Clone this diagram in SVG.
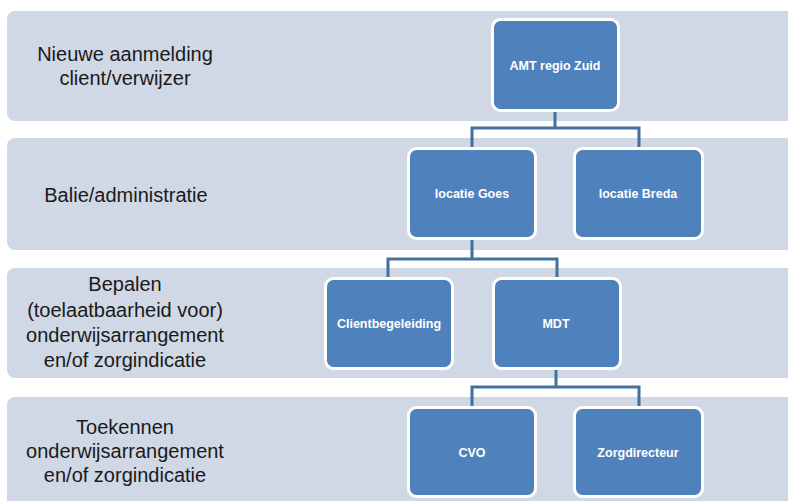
<svg xmlns="http://www.w3.org/2000/svg" width="788" height="501" viewBox="0 0 788 501">
<style>
.band{fill:#D0D7E5}
.lbl{font-family:"Liberation Sans",Arial,sans-serif;font-size:20px;fill:#1a1a1a;text-anchor:middle}
.node rect{fill:#4F81BD;stroke:#FFFFFF;stroke-width:3}
.node text{font-family:"Liberation Sans",Arial,sans-serif;font-size:12.5px;font-weight:bold;fill:#FFFFFF;text-anchor:middle}
.conn path{fill:none;stroke:#41719C;stroke-width:3}
</style>
<rect width="788" height="501" fill="#FFFFFF"/>
<g id="bands">
<rect class="band" x="7" y="11" width="800" height="110" rx="8"/>
<rect class="band" x="7" y="138" width="800" height="112" rx="8"/>
<rect class="band" x="7" y="268" width="800" height="110" rx="8"/>
<rect class="band" x="7" y="397" width="800" height="112" rx="8"/>
</g>
<g id="labels">
<text class="lbl" x="125" y="61">Nieuwe aanmelding</text>
<text class="lbl" x="125" y="85">client/verwijzer</text>
<text class="lbl" x="126" y="202">Balie/administratie</text>
<text class="lbl" x="125" y="291">Bepalen</text>
<text class="lbl" x="125" y="317">(toelaatbaarheid voor)</text>
<text class="lbl" x="125" y="342">onderwijsarrangement</text>
<text class="lbl" x="125" y="367">en/of zorgindicatie</text>
<text class="lbl" x="125" y="434">Toekennen</text>
<text class="lbl" x="125" y="458">onderwijsarrangement</text>
<text class="lbl" x="125" y="482">en/of zorgindicatie</text>
</g>
<g id="connectors" class="conn">
<path d="M555,112 V128 H472 V147 M555,128 H639 V147"/>
<path d="M472,240 V259 H388 V277 M472,259 H557 V277"/>
<path d="M556,370 V387 H472 V406 M556,387 H639 V406"/>
</g>
<g id="node-amt" class="node">
<rect x="492.5" y="19.5" width="126" height="91" rx="8"/>
<text x="555" y="70">AMT regio Zuid</text>
</g>
<g id="node-goes" class="node">
<rect x="408.5" y="148.5" width="127" height="90" rx="8"/>
<text x="472" y="198">locatie Goes</text>
</g>
<g id="node-breda" class="node">
<rect x="574.5" y="148.5" width="128" height="90" rx="8"/>
<text x="638" y="198">locatie Breda</text>
</g>
<g id="node-clientbegeleiding" class="node">
<rect x="325.5" y="278.5" width="127" height="90" rx="8"/>
<text x="389" y="328">Clientbegeleiding</text>
</g>
<g id="node-mdt" class="node">
<rect x="493.5" y="278.5" width="127" height="90" rx="8"/>
<text x="556" y="328">MDT</text>
</g>
<g id="node-cvo" class="node">
<rect x="408.5" y="407.5" width="127" height="89" rx="8"/>
<text x="472" y="457">CVO</text>
</g>
<g id="node-zorgdirecteur" class="node">
<rect x="574.5" y="407.5" width="128" height="89" rx="8"/>
<text x="638" y="457">Zorgdirecteur</text>
</g>
</svg>
